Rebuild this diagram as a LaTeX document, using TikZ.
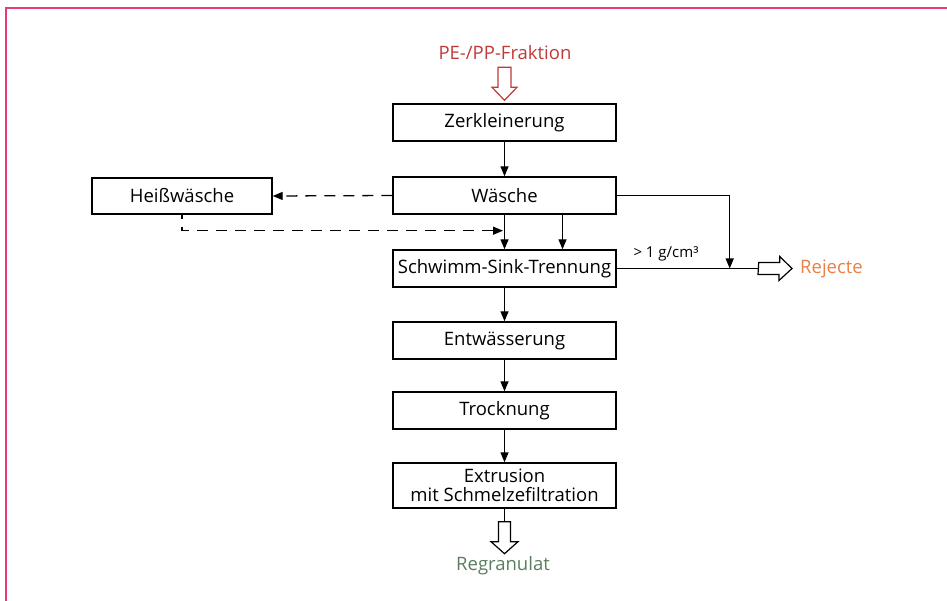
\documentclass[tikz,border=0pt]{standalone}
\usepackage{fontspec}
\setmainfont{Open Sans}
\usetikzlibrary{arrows.meta}
\definecolor{framepink}{RGB}{232,60,110}
\definecolor{inred}{RGB}{192,58,56}
\definecolor{outorange}{RGB}{232,128,72}
\definecolor{outgreen}{RGB}{90,125,95}
\begin{document}
\begin{tikzpicture}[x=1pt,y=1pt,
  font=\fontsize{18.5}{21}\selectfont,
  box/.style={draw, line width=1.4pt, minimum width=223pt, minimum height=37pt,
    inner sep=0pt, align=center},
  flow/.style={line width=1.3pt, -{Triangle[length=10pt,width=8pt]}},
  back/.style={flow, dash pattern=on 11pt off 8pt},
  hollow/.style={line width=1.2pt, fill=white, line join=miter},
  plain/.style={line width=1.3pt}]
\useasboundingbox (0,0) rectangle (947,-601);
% frame
\draw[framepink, line width=2pt] (5.5,-601) -- (5.5,-8.5) -- (947,-8.5);

% process steps
\node[box] (zerk)  at (504.5,-122.5) {Zerkleinerung};
\node[box] (wasch) at (504.5,-195.5) {Wäsche};
\node[box, minimum width=180pt, minimum height=36pt] (heiss) at (182,-196) {Heißwäsche};
\node[box] (sst)   at (504.5,-268.5) {Schwimm-Sink-Trennung};
\node[box] (entw)  at (504.5,-340.5) {Entwässerung};
\node[box] (trock) at (504.5,-410.5) {Trocknung};
\node[box, minimum height=45pt, font=\fontsize{18.5}{18.5}\selectfont] (extr) at (504.5,-485.5)
  {Extrusion\\mit Schmelzefiltration};

% inputs and outputs
\node[text=inred] (pe) at (505,-53) {PE-/PP-Fraktion};
\node[text=outorange, anchor=west, inner sep=0pt] (rej) at (800,-268.5) {Rejecte};
\node[text=outgreen] (regr) at (503,-566) {Regranulat};
\node[font=\fontsize{15}{17}\selectfont] (dens) at (666,-254) {> 1 g/cm³};

% main flow
\draw[flow] (zerk.south) -- (wasch.north);
\draw[flow] (wasch.south) -- (sst.north);
\draw[flow] ([xshift=58pt]wasch.south) -- ([xshift=58pt]sst.north);
\draw[flow] (sst.south) -- (entw.north);
\draw[flow] (entw.south) -- (trock.north);
\draw[flow] (trock.south) -- (extr.north);

% hot wash loop
\draw[back] (wasch.west) -- (heiss.east);
\draw[back, dash phase=7pt] (heiss.south) |- ([shift={(-1.5pt,-16pt)}]wasch.south);

% rejects
\draw[flow] (wasch.east) -| ([xshift=113pt]sst.east);
\draw[plain] (sst.east) -- ([xshift=142pt]sst.east) coordinate (rjtail);
\draw[hollow] (rjtail) ++(0,6) -- ++(21,0) -- ++(0,6) -- ([xshift=-8pt]rej.west)
  -- ++(-13,-12) -- ++(0,6) -- ++(-21,0) -- cycle;

% feed arrow
\draw[hollow, draw=inred] ([shift={(-6.5pt,36pt)}]zerk.north) -- ++(0,-20) -- ++(-6,0)
  -- ([yshift=3pt]zerk.north) -- ++(12.5,13) -- ++(-6,0) -- ++(0,20) -- cycle;

% product arrow
\draw[plain] (extr.south) -- ++(0,-13) coordinate (rgtop);
\draw[hollow] (rgtop) ++(-6,0) -- ++(0,-20) -- ++(-7.5,0) -- ++(13.5,-12)
  -- ++(13.5,12) -- ++(-7.5,0) -- ++(0,20) -- cycle;
\end{tikzpicture}
\end{document}
